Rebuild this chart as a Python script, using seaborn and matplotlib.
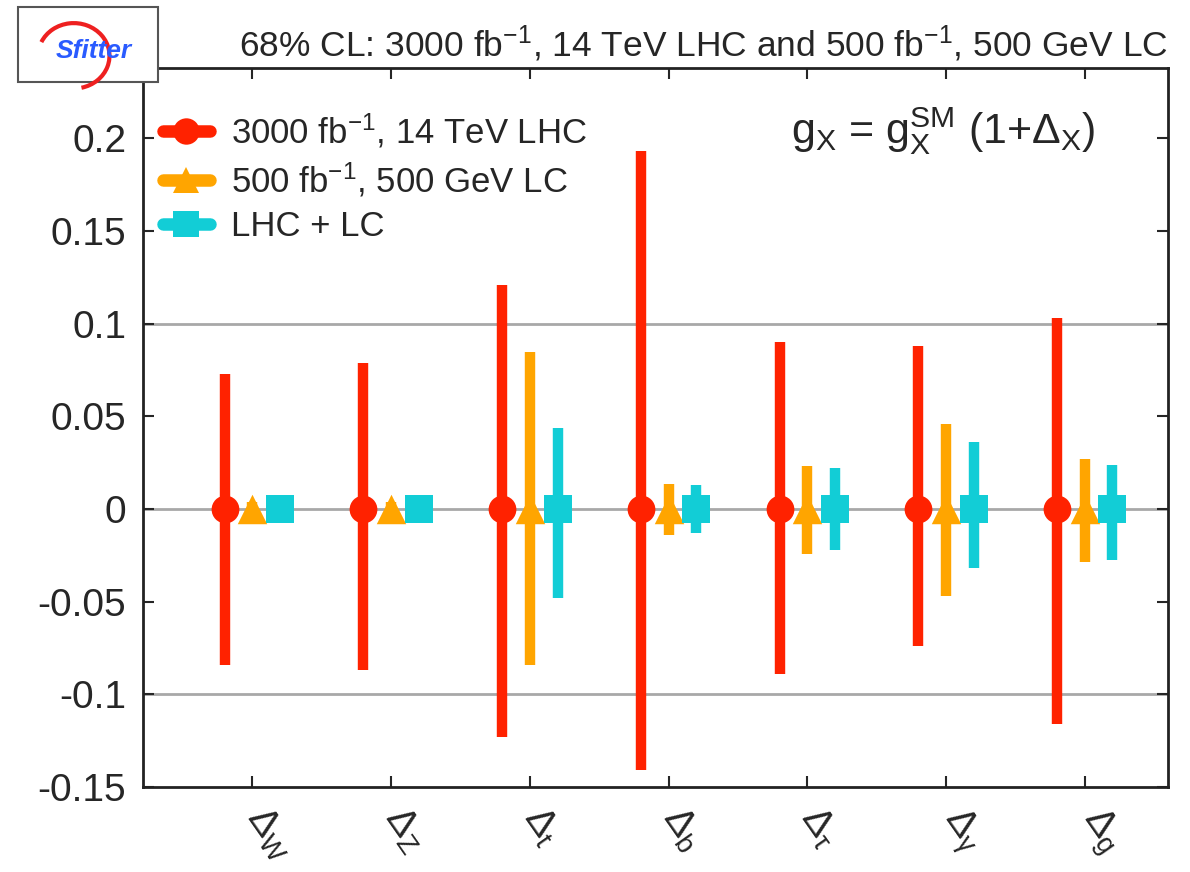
import numpy as np
import pandas as pd
import matplotlib
matplotlib.use("Agg")
import matplotlib.pyplot as plt
import matplotlib.transforms as mtransforms
import seaborn as sns
from matplotlib.lines import Line2D
from matplotlib.patches import Rectangle, Arc

# Data
couplings = [r"$\Delta_W$", r"$\Delta_Z$", r"$\Delta_t$", r"$\Delta_b$",
             r"$\Delta_\tau$", r"$\Delta_\gamma$", r"$\Delta_g$"]
series = ["3000 fb$^{-1}$, 14 TeV LHC", "500 fb$^{-1}$, 500 GeV LC", "LHC + LC"]

lhc_up = [0.073, 0.079, 0.121, 0.193, 0.090, 0.088, 0.103]
lhc_down = [-0.084, -0.087, -0.123, -0.141, -0.089, -0.074, -0.116]
lc_up = [0.004, 0.004, 0.085, 0.0135, 0.023, 0.046, 0.027]
lc_down = [-0.004, -0.004, -0.084, -0.014, -0.024, -0.047, -0.0285]
comb_up = [0.003, 0.003, 0.0437, 0.013, 0.022, 0.036, 0.024]
comb_down = [-0.003, -0.003, -0.048, -0.013, -0.022, -0.032, -0.0275]
central = [0, 0, 0, 0, 0, 0, 0]

colors = ["#ff2200", "#ffa500", "#12cdd6"]
markers = ["o", "^", "s"]
offsets = [-0.2, 0.0, 0.2]

sns.set_theme(style="white")
plt.rcParams["font.family"] = ["Liberation Sans", "DejaVu Sans"]
plt.rcParams["mathtext.fontset"] = "custom"
plt.rcParams["mathtext.rm"] = "Liberation Sans"
plt.rcParams["mathtext.it"] = "Liberation Sans"
plt.rcParams["mathtext.bf"] = "Liberation Sans:bold"
txt = "#262626"

fig = plt.figure(figsize=(11.9, 8.72), dpi=100)
ax = fig.add_axes([0.120, 0.0975, 0.8615, 0.8245])

ups = [lhc_up, lc_up, comb_up]
downs = [lhc_down, lc_down, comb_down]
rows = []
for s, name in enumerate(series):
    for i in range(len(couplings)):
        rows.append({"series": name, "x": i + 1 + offsets[s], "val": central[i],
                     "lo": downs[s][i], "hi": ups[s][i]})
df = pd.DataFrame(rows)

for y in [-0.1, 0, 0.1]:
    ax.axhline(y, color="#a8a8a8", lw=2, zorder=0)

for s, name in enumerate(series):
    sub = df[df["series"] == name]
    ax.vlines(sub["x"], sub["lo"], sub["hi"], color=colors[s], lw=7.5, zorder=2 + s)
    sns.scatterplot(data=sub, x="x", y="val", marker=markers[s], color=colors[s],
                    s=400 if s != 1 else 450, linewidth=0, ax=ax, zorder=2.5 + s,
                    legend=False)

ax.set_xlim(0.21, 7.6)
ax.set_ylim(-0.15, 0.238)
ax.set_xticks(range(1, 8))
ax.set_xticklabels(couplings)
ax.set_yticks([-0.15, -0.1, -0.05, 0, 0.05, 0.1, 0.15, 0.2])
ax.set_yticklabels(["-0.15", "-0.1", "-0.05", "0", "0.05", "0.1", "0.15", "0.2"])
ax.set_xlabel("")
ax.set_ylabel("")
ax.tick_params(axis="y", direction="in", length=8, width=1.5, labelsize=28,
               labelcolor=txt, right=True, left=True, pad=12)
ax.tick_params(axis="x", direction="in", length=8, width=1.5, labelsize=28,
               labelcolor=txt, top=True, bottom=True, pad=10)
shift = mtransforms.ScaledTranslation(-10 / 72, 0, fig.dpi_scale_trans)
for lab in ax.get_xticklabels():
    lab.set_rotation(-55)
    lab.set_ha("left")
    lab.set_va("top")
    lab.set_transform(lab.get_transform() + shift)
for sp in ax.spines.values():
    sp.set_color("#222222")
    sp.set_linewidth(2)

handles = [Line2D([0], [0], color=colors[s], lw=9, marker=markers[s],
                  markersize=19, markeredgewidth=0) for s in range(3)]
leg = ax.legend(handles, series, loc="upper left", frameon=False, fontsize=25,
                handlelength=1.35, handletextpad=0.6, labelspacing=0.3,
                borderaxespad=0.0, bbox_to_anchor=(0.006, 0.958))
for t in leg.get_texts():
    t.set_color(txt)

ax.text(0.929, 0.895, r"g$_\mathregular{X}$ = g$_\mathregular{X}^\mathregular{SM}$ (1+$\Delta_\mathregular{X}$)",
        transform=ax.transAxes, ha="right", va="baseline", fontsize=31, color=txt)

fig.text(0.981, 0.936, "68% CL: 3000 fb$^{-1}$, 14 TeV LHC and 500 fb$^{-1}$, 500 GeV LC",
         ha="right", va="baseline", fontsize=25.5, color=txt)

# logo box in the upper left corner
fig.patches.append(Rectangle((0.015, 0.906), 0.118, 0.086, transform=fig.transFigure,
                             facecolor="white", edgecolor="#555555", lw=1.5, zorder=10))
fig.patches.append(Arc((0.062, 0.936), 0.06, 0.075, angle=0, theta1=-80, theta2=150,
                       transform=fig.transFigure, color="#ee2020", lw=3, zorder=11))
fig.text(0.079, 0.941, "Sfitter", ha="center", va="center", fontsize=19,
         color="#2a5bff", style="italic", fontweight="bold", zorder=12)

fig.savefig("out.png", dpi=100)
